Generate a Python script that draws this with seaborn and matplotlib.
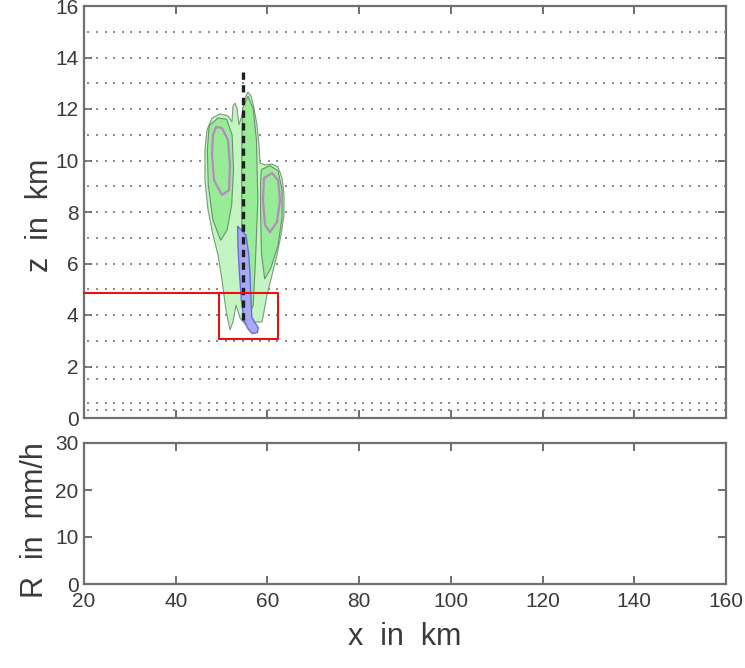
import numpy as np
import matplotlib
matplotlib.use("Agg")
import matplotlib.pyplot as plt
import seaborn as sns
import pandas as pd

# ---------------- data (km) ----------------
outer_x = [51.84, 50.96, 50.09, 49.22, 48.13, 47.04, 46.38, 46.38, 46.82, 47.91, 49.66, 51.40, 52.27,
           52.49, 52.93, 53.36, 53.80, 54.45, 55.11, 55.76, 56.42, 57.07, 57.72, 58.16, 58.38, 59.47,
           61.00, 62.30, 63.18, 63.61, 63.61, 62.96, 62.08, 61.00, 59.90, 59.25, 58.81, 57.51, 56.63,
           55.54, 54.02, 53.15, 52.49]
outer_z = [3.42, 4.19, 5.36, 6.33, 7.11, 8.08, 9.24, 10.41, 11.18, 11.65, 11.81, 11.73, 11.50,
           12.12, 12.23, 12.04, 11.38, 11.77, 12.43, 12.66, 12.50, 12.04, 11.38, 10.60, 9.90, 9.83,
           9.86, 9.75, 9.32, 8.66, 7.88, 7.11, 6.33, 5.55, 4.78, 4.12, 3.73, 3.73, 3.57,
           3.57, 3.88, 4.39, 3.73]

midL_x = [47.30, 49.22, 51.10, 52.30, 52.60, 52.20, 51.20, 49.80, 48.10, 47.10, 46.90]
midL_z = [11.35, 11.65, 11.60, 10.99, 9.63, 8.27, 7.30, 6.90, 7.70, 9.05, 10.41]
midC_x = [54.60, 55.76, 56.90, 57.60, 57.90, 57.40, 56.90, 55.90, 54.90, 54.40, 54.40]
midC_z = [12.05, 12.50, 12.00, 10.80, 8.47, 6.14, 4.40, 3.90, 4.70, 7.30, 10.41]
midR_x = [58.70, 60.56, 62.30, 63.20, 63.20, 62.30, 60.70, 59.40, 58.70, 58.50, 58.50]
midR_z = [9.65, 9.80, 9.60, 8.85, 7.80, 6.70, 5.80, 5.40, 6.40, 8.08, 9.15]

purL_x = [48.78, 50.09, 51.40, 51.84, 51.62, 50.09, 48.35, 47.91, 48.13]
purL_z = [11.30, 11.26, 10.80, 9.83, 8.85, 8.66, 9.24, 10.21, 10.99]
purR_x = [59.25, 61.00, 62.30, 62.74, 62.08, 60.56, 59.47, 59.03]
purR_z = [9.32, 9.51, 9.24, 8.47, 7.61, 7.22, 7.50, 8.47]

blue_x = [53.50, 55.30, 55.90, 56.20, 56.40, 56.60, 57.50, 58.00, 57.80, 56.70, 55.80, 54.90, 54.30, 53.90, 53.60]
blue_z = [7.45, 7.10, 6.40, 5.60, 4.60, 3.90, 3.65, 3.50, 3.32, 3.28, 3.45, 3.80, 4.60, 5.60, 6.60]

column_x = [54.67, 54.67]
column_z = [3.8, 13.6]

red_line_x = [20.0, 49.44]
red_line_z = [4.85, 4.85]
red_box_x = [49.44, 62.30, 62.30, 49.44, 49.44]
red_box_z = [4.85, 4.85, 3.07, 3.07, 4.85]

vec_levels = [0.3, 0.6, 1.5, 2, 3, 4, 5, 6, 7, 8, 9, 10, 11, 12, 13, 14, 15]
vec_x = np.arange(20.94, 160, 1.875)

rain_x = []
rain_r = []

x_ticks = [20, 40, 60, 80, 100, 120, 140, 160]
z_ticks = [0, 2, 4, 6, 8, 10, 12, 14, 16]
r_ticks = [0, 10, 20, 30]

# ---------------- style ----------------
sns.set_theme(style="white")
plt.rcParams["font.family"] = ["Liberation Sans Narrow", "Liberation Sans", "DejaVu Sans"]
txt = "#3a3a3a"
spine_c = "#707070"

fig = plt.figure(figsize=(7.45, 6.68), dpi=100)
ax1 = fig.add_axes([84/745, 1-418/668, (726-84)/745, (418-6)/668])
ax2 = fig.add_axes([84/745, 1-584/668, (726-84)/745, (584-443)/668])

# quiver-like dotted rows
dots = pd.DataFrame([(x, z) for z in vec_levels for x in vec_x], columns=["x", "z"])
sns.scatterplot(data=dots, x="x", y="z", ax=ax1, marker="s", s=2.2, color="#8c8c8c",
                linewidth=0, legend=False, zorder=1)

def poly(ax, xs, zs, fc, ec, lw, z):
    ax.fill(xs, zs, facecolor=fc, edgecolor=ec, linewidth=lw, zorder=z)

poly(ax1, outer_x, outer_z, "#c2f5c2", "#7a9a7a", 0.8, 2)
poly(ax1, midL_x, midL_z, "#98ec98", "#6f8f6f", 0.8, 3)
poly(ax1, midC_x, midC_z, "#98ec98", "#6f8f6f", 0.8, 3)
poly(ax1, midR_x, midR_z, "#98ec98", "#6f8f6f", 0.8, 3)
ax1.plot(purL_x + purL_x[:1], purL_z + purL_z[:1], color="#b889c0", lw=1.6, zorder=4)
ax1.plot(purR_x + purR_x[:1], purR_z + purR_z[:1], color="#b889c0", lw=1.6, zorder=4)
poly(ax1, blue_x, blue_z, "#aaaaf4", "#6a6ae6", 1.0, 5)

sns.lineplot(x=column_x, y=column_z, ax=ax1, color="#202020", lw=2.4,
             linestyle=(0, (2.2, 1.6)), zorder=6, estimator=None, sort=False)

ax1.plot(red_line_x, red_line_z, color="#e81010", lw=1.5, zorder=8, clip_on=False)
ax1.plot(red_box_x, red_box_z, color="#e81010", lw=1.5, zorder=8)

if rain_x:
    sns.lineplot(x=rain_x, y=rain_r, ax=ax2, color="k")

for ax in (ax1, ax2):
    ax.set_xlim(20, 160)
    ax.set_xticks(x_ticks)
    ax.tick_params(direction="in", length=6, width=1.2, color="#555555",
                   top=True, right=True, bottom=True, left=True,
                   labelsize=15, labelcolor=txt, pad=4)
    for s in ax.spines.values():
        s.set_color(spine_c)
        s.set_linewidth(1.6)
        s.set_visible(True)
    ax.set_facecolor("white")
    ax.grid(False)
    ax.set_xlabel("")
    ax.set_ylabel("")

ax1.set_ylim(0, 16)
ax1.set_yticks(z_ticks)
ax1.set_xticklabels([])
ax2.set_ylim(0, 30)
ax2.set_yticks(r_ticks)
ax2.tick_params(axis="x", pad=6)

fig.text(40/745, 1-215/668, "z  in  km", rotation=90, ha="center", va="center",
         fontsize=22, color=txt)
fig.text(35/745, 1-520/668, "R  in  mm/h", rotation=90, ha="center", va="center",
         fontsize=22, color=txt)
fig.text(405/745, 1-637/668, "x  in  km", ha="center", va="center",
         fontsize=22, color=txt)

fig.savefig("out.png", dpi=100, facecolor="white")
